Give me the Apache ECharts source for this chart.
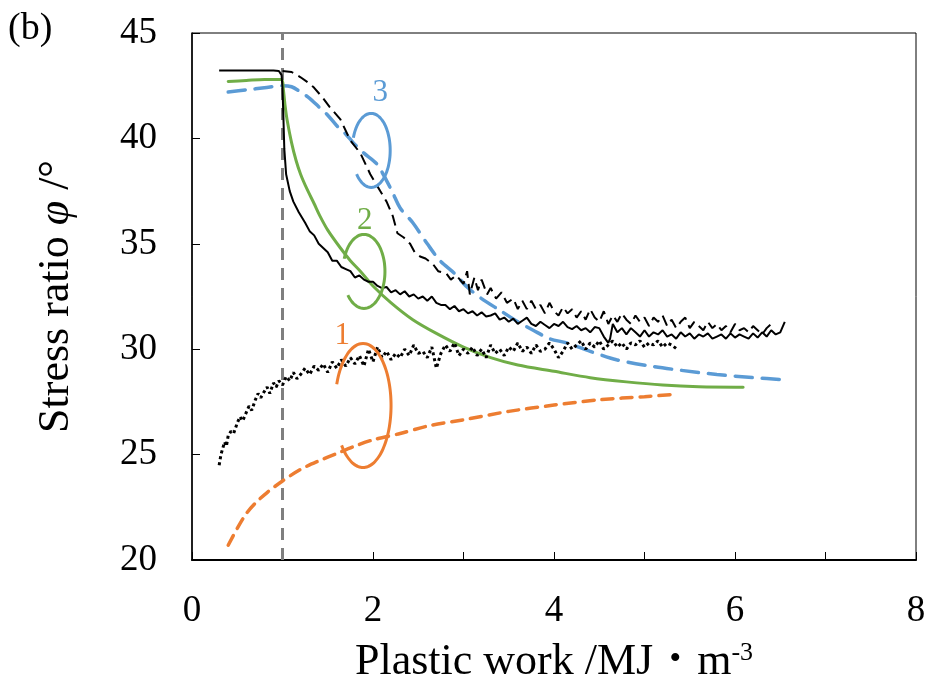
<!DOCTYPE html>
<html><head><meta charset="utf-8">
<script src="https://cdn.jsdelivr.net/npm/echarts@6/dist/echarts.min.js"></script>
<style>html,body{margin:0;padding:0;background:#fff}#c{width:928px;height:684px}</style>
</head><body><div id="c"></div>
<script>
// ---- Data ----
const xTicks = [0, 2, 4, 6, 8];
const yTicks = [20, 25, 30, 35, 40, 45];
const refLineX = 1.0;

// Experimental, case 2 (black solid)
const exp2 = [[0.30,43.22],[0.5,43.22],[0.7,43.22],[0.9,43.22],[0.96,43.2],[0.99,43.0],[1.0,42.4],[1.01,41.0],[1.02,39.5],[1.04,38.3],[1.08,37.5],[1.12,37.0],[1.18,36.5],[1.25,36.0],[1.30,35.6],[1.35,35.4],[1.40,35.0],[1.45,34.8],[1.50,34.6],[1.55,34.2],[1.60,34.2],[1.65,33.9],[1.70,33.8],[1.75,33.7],[1.80,33.4],[1.85,33.5],[1.9,33.3],[1.95,33.2],[2.0,33.2],[2.05,33.0],[2.1,32.9],[2.15,32.95],[2.2,32.7],[2.25,32.8],[2.3,32.6],[2.35,32.75],[2.4,32.5],[2.45,32.6],[2.5,32.4],[2.55,32.5],[2.6,32.3],[2.65,32.5],[2.7,32.2],[2.75,32.1],[2.8,32.1],[2.85,31.9],[2.9,32.05],[2.95,31.8],[3.0,31.9],[3.05,31.7],[3.1,31.8],[3.15,31.6],[3.2,31.75],[3.25,31.55],[3.3,31.6],[3.35,31.7],[3.4,31.4],[3.45,31.5],[3.5,31.3],[3.55,31.45],[3.6,31.2],[3.65,31.35],[3.7,31.5],[3.75,31.2],[3.8,31.1],[3.85,31.3],[3.9,31.15],[3.95,31.0],[4.0,31.2],[4.05,31.1],[4.1,31.3],[4.15,31.05],[4.2,30.95],[4.25,31.1],[4.3,30.9],[4.35,31.0],[4.4,30.8],[4.45,31.05],[4.5,31.0],[4.55,30.6],[4.6,30.3],[4.62,30.5],[4.65,31.2],[4.7,30.8],[4.75,31.0],[4.8,30.7],[4.85,31.0],[4.9,30.8],[4.95,30.6],[5.0,30.9],[5.05,30.6],[5.1,30.8],[5.15,30.7],[5.2,30.9],[5.25,30.6],[5.3,30.7],[5.35,30.5],[5.4,30.8],[5.45,30.6],[5.5,30.75],[5.55,30.5],[5.6,30.7],[5.65,30.6],[5.7,30.75],[5.75,30.5],[5.8,30.6],[5.85,30.7],[5.9,30.5],[5.95,30.75],[6.0,30.55],[6.05,30.7],[6.1,30.6],[6.15,30.5],[6.2,30.75],[6.25,30.55],[6.3,30.8],[6.35,30.6],[6.4,30.9],[6.45,30.7],[6.5,30.8],[6.55,31.3]];

// Experimental, case 3 (black dashed)
const exp3 = [[1.0,43.2],[1.1,43.15],[1.2,42.9],[1.3,42.6],[1.35,42.4],[1.45,41.9],[1.52,41.5],[1.64,40.9],[1.75,39.9],[1.86,39.3],[1.97,38.3],[2.08,37.5],[2.15,37.0],[2.22,36.3],[2.27,35.5],[2.34,35.3],[2.41,35.0],[2.46,34.6],[2.52,34.4],[2.58,34.3],[2.66,34.05],[2.72,33.7],[2.81,33.6],[2.86,33.3],[2.92,33.5],[3.0,33.1],[3.04,33.7],[3.07,32.6],[3.12,33.4],[3.16,32.8],[3.2,33.3],[3.26,32.6],[3.3,32.9],[3.36,32.4],[3.42,32.7],[3.48,32.2],[3.55,32.4],[3.6,31.9],[3.65,32.3],[3.7,31.9],[3.75,32.3],[3.8,31.9],[3.85,32.1],[3.9,31.7],[3.95,32.2],[4.0,31.8],[4.05,31.6],[4.1,32.0],[4.15,31.7],[4.2,31.9],[4.25,31.5],[4.3,31.8],[4.35,31.4],[4.4,31.9],[4.45,31.5],[4.5,31.3],[4.55,31.8],[4.6,31.2],[4.65,31.6],[4.7,31.3],[4.75,31.7],[4.8,31.4],[4.85,31.2],[4.9,31.6],[4.95,31.3],[5.0,31.5],[5.05,31.1],[5.1,31.5],[5.15,31.3],[5.2,31.6],[5.25,31.1],[5.3,31.4],[5.35,31.0],[5.4,31.3],[5.45,31.5],[5.5,31.0],[5.55,31.3],[5.6,31.1],[5.65,30.9],[5.7,31.3],[5.75,31.0],[5.8,31.2],[5.85,30.9],[5.9,31.1],[5.95,30.8],[6.0,31.2],[6.05,30.9],[6.1,31.0],[6.15,30.8],[6.2,31.1],[6.25,30.9],[6.3,30.7],[6.35,31.0],[6.4,31.2]];

// Experimental, case 1 (black dotted)
const exp1 = [[0.3,24.5],[0.32,25.0],[0.34,25.3],[0.36,25.6],[0.38,25.4],[0.4,25.9],[0.43,26.1],[0.46,26.0],[0.5,26.5],[0.53,26.8],[0.56,26.6],[0.6,27.0],[0.63,27.3],[0.66,27.1],[0.7,27.6],[0.73,27.9],[0.76,27.7],[0.8,28.0],[0.83,28.2],[0.86,27.9],[0.9,28.4],[0.93,28.2],[0.96,28.5],[1.0,28.3],[1.04,28.7],[1.08,28.5],[1.12,28.9],[1.16,28.6],[1.2,28.8],[1.25,29.1],[1.3,28.8],[1.35,29.2],[1.4,29.0],[1.45,29.3],[1.5,28.9],[1.55,29.4],[1.6,29.1],[1.65,29.5],[1.7,29.2],[1.75,29.6],[1.8,29.3],[1.85,29.7],[1.9,29.2],[1.95,30.0],[2.0,29.4],[2.05,30.1],[2.1,29.6],[2.15,29.9],[2.2,29.5],[2.25,29.8],[2.3,29.6],[2.35,30.0],[2.4,29.7],[2.45,30.2],[2.5,29.8],[2.55,29.9],[2.6,29.6],[2.65,30.1],[2.7,29.1],[2.75,29.8],[2.8,30.2],[2.85,29.9],[2.9,30.3],[2.95,29.7],[3.0,30.0],[3.05,29.8],[3.1,30.1],[3.15,29.7],[3.2,30.0],[3.25,29.6],[3.3,30.2],[3.35,29.8],[3.4,30.0],[3.45,29.7],[3.5,30.1],[3.55,29.9],[3.6,30.3],[3.65,29.9],[3.7,30.1],[3.75,29.8],[3.8,30.2],[3.85,29.9],[3.9,30.0],[3.95,30.3],[4.0,30.0],[4.05,29.6],[4.1,29.9],[4.15,30.3],[4.2,30.0],[4.25,30.2],[4.3,30.4],[4.35,30.0],[4.4,30.3],[4.45,30.1],[4.5,30.4],[4.55,30.0],[4.6,30.2],[4.65,30.4],[4.7,30.1],[4.75,30.3],[4.8,30.0],[4.85,30.3],[4.9,30.2],[4.95,30.4],[5.0,30.1],[5.05,30.3],[5.1,30.2],[5.15,30.4],[5.2,30.1],[5.25,30.3],[5.3,30.2],[5.36,30.0]];

// Model, case 2 (green)
const model2 = [[0.4,42.7],[0.6,42.75],[0.8,42.8],[0.99,42.8],[1.01,42.3],[1.03,41.5],[1.05,40.9],[1.1,39.8],[1.15,38.95],[1.2,38.3],[1.27,37.6],[1.35,36.9],[1.41,36.35],[1.5,35.65],[1.64,34.8],[1.75,34.2],[1.86,33.7],[2.0,33.0],[2.2,32.2],[2.44,31.4],[2.7,30.75],[3.0,30.1],[3.3,29.6],[3.6,29.25],[4.0,28.95],[4.4,28.65],[4.8,28.45],[5.2,28.3],[5.6,28.22],[6.09,28.2]];

// Model, case 3 (blue dashed)
const model3 = [[0.4,42.2],[0.6,42.3],[0.8,42.4],[1.0,42.5],[1.1,42.45],[1.2,42.2],[1.3,41.9],[1.4,41.5],[1.5,41.1],[1.6,40.6],[1.7,40.2],[1.78,39.8],[1.9,39.3],[2.04,38.8],[2.15,38.0],[2.22,37.4],[2.3,36.7],[2.44,36.0],[2.6,35.0],[2.74,34.2],[2.9,33.6],[3.04,32.95],[3.2,32.4],[3.4,31.85],[3.6,31.3],[3.77,30.9],[3.95,30.5],[4.14,30.3],[4.4,29.9],[4.69,29.5],[5.06,29.2],[5.4,29.0],[5.8,28.8],[6.2,28.65],[6.55,28.55]];

// Model, case 1 (orange dashed)
const model1 = [[0.4,20.7],[0.5,21.5],[0.6,22.2],[0.7,22.7],[0.83,23.2],[1.0,23.75],[1.2,24.3],[1.4,24.7],[1.6,25.05],[1.8,25.4],[2.0,25.7],[2.3,26.0],[2.6,26.35],[3.0,26.65],[3.5,27.05],[4.0,27.35],[4.5,27.6],[5.0,27.75],[5.3,27.85]];

// Annotation labels (case number) and group-ellipse centres in data units
const annoLabels = ['1', '2', '3'];
const annoLabelPos = [[1.66, 30.65], [1.91, 36.1], [2.08, 42.14]];
const ellipseCentres = [[1.89, 27.33], [1.90, 33.69], [1.98, 39.43]];

// ---- Styles ----
const C_ORANGE = '#ed7d31', C_GREEN = '#70ad47', C_BLUE = '#5b9bd5';
const annoColors = [C_ORANGE, C_GREEN, C_BLUE];
const ellipseRadii = [[28, 62], [21, 37], [19, 37]];
const SERIF = '"Liberation Serif","Times New Roman",serif';

const chart = echarts.init(document.getElementById('c'), null, {renderer: 'canvas'});
const option = {
  animation: false,
  backgroundColor: '#fff',
  grid: {left: 192, right: 12, top: 33, bottom: 124, containLabel: false, outerBoundsMode: 'none',
    show: true, borderColor: '#000', borderWidth: 1, backgroundColor: 'transparent'},
  xAxis: {
    type: 'value', min: 0, max: 8, interval: 1,
    axisLine: {show: true, onZero: false, lineStyle: {color: '#000', width: 2.2}},
    axisTick: {show: true, inside: true, length: 8, lineStyle: {color: '#000', width: 1}},
    splitLine: {show: false},
    axisLabel: {margin: 33, color: '#000', fontFamily: SERIF, fontSize: 37,
      formatter: v => xTicks.includes(v) ? String(v) : ''},
    name: '{n|Plastic work /MJ\u30FBm}{s|-3}',
    nameLocation: 'middle', nameGap: 80,
    nameTextStyle: {rich: {
      n: {fontFamily: '"Liberation Serif","Noto Serif CJK JP","Noto Sans CJK JP",serif', fontSize: 44, color: '#000'},
      s: {fontFamily: SERIF, fontSize: 26, color: '#000', verticalAlign: 'top', padding: [0,0,18,0]}
    }}
  },
  yAxis: {
    type: 'value', min: 20, max: 45, interval: 5,
    axisLine: {show: true, onZero: false, lineStyle: {color: '#000', width: 1.5}},
    axisTick: {show: true, inside: true, length: 8, lineStyle: {color: '#000', width: 1}},
    splitLine: {show: false},
    axisLabel: {margin: 35, color: '#000', fontFamily: SERIF, fontSize: 37,
      formatter: v => yTicks.includes(v) ? String(v) : ''},
    name: '{n|Stress ratio }{i|\u03C6}{n| /\u00B0}',
    nameLocation: 'middle', nameGap: 114, nameRotate: 90,
    nameTextStyle: {rich: {
      n: {fontFamily: SERIF, fontSize: 44, color: '#000'},
      i: {fontFamily: SERIF, fontSize: 44, fontStyle: 'italic', color: '#000'}
    }}
  },
  series: [
    {type: 'line', data: [[refLineX, 20], [refLineX, 45]], showSymbol: false, z: 1,
      lineStyle: {color: '#7f7f7f', width: 3, type: [12, 8]}},
    {type: 'line', data: model1, showSymbol: false, smooth: 0.3, z: 2,
      lineStyle: {color: C_ORANGE, width: 3.5, type: [11, 8], cap: 'round'}},
    {type: 'line', data: model3, showSymbol: false, smooth: 0.3, z: 2,
      lineStyle: {color: C_BLUE, width: 3.5, type: [17, 10], cap: 'round'}},
    {type: 'line', data: model2, showSymbol: false, smooth: 0.3, z: 2,
      lineStyle: {color: C_GREEN, width: 3, cap: 'round'}},
    {type: 'line', data: exp1, showSymbol: false, z: 3,
      lineStyle: {color: '#000', width: 3, type: [3, 3]}},
    {type: 'line', data: exp3, showSymbol: false, z: 3,
      lineStyle: {color: '#000', width: 2, type: [11, 6]}},
    {type: 'line', data: exp2, showSymbol: false, z: 3,
      lineStyle: {color: '#000', width: 2}}
  ]
};
chart.setOption(option);

// annotations positioned through the axes
function buildGraphics() {
  const g = [];
  g.push({type: 'text', left: 8, top: 10, style: {text: '(b)', font: '38px ' + SERIF, fill: '#000'}});
  for (let k = 0; k < 3; k++) {
    const p = chart.convertToPixel({gridIndex: 0}, annoLabelPos[k]);
    g.push({type: 'text', x: p[0], y: p[1], style: {text: annoLabels[k], font: '31px ' + SERIF, fill: annoColors[k], align: 'center', verticalAlign: 'middle'}});
    const c = chart.convertToPixel({gridIndex: 0}, ellipseCentres[k]);
    const rx = ellipseRadii[k][0], ry = ellipseRadii[k][1];
    const pts = [];
    // open ellipse: gap on the left side (approx. 160deg..220deg)
    for (let a = 160; a >= -140; a -= 5) {
      const t = a * Math.PI / 180;
      pts.push([c[0] + rx * Math.cos(t), c[1] - ry * Math.sin(t)]);
    }
    g.push({type: 'polyline', shape: {points: pts, smooth: 0.3}, style: {stroke: annoColors[k], lineWidth: 3, fill: null}, z: 10});
  }
  return g;
}
chart.setOption({graphic: buildGraphics()});
</script>
</body></html>
